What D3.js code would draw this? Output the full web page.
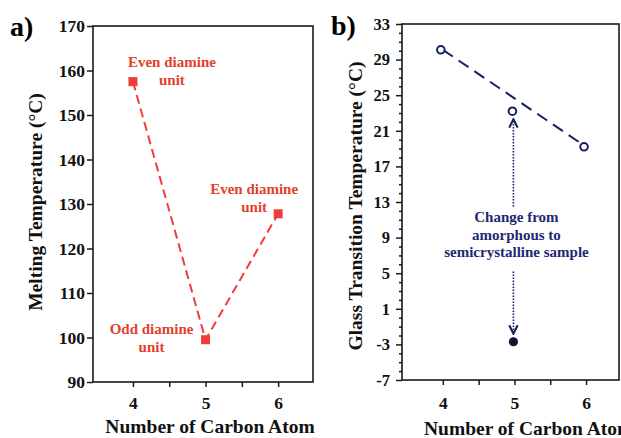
<!DOCTYPE html>
<html lang="en">
<head>
<meta charset="UTF-8">
<title>Melting and glass transition temperature</title>
<script src="https://unpkg.com/d3@7.8.5/dist/d3.min.js"></script>
<style>
  body { margin: 0; background: #fff; }
  svg { display: block; font-family: "Liberation Serif", "Times New Roman", serif; font-weight: bold; }
</style>
</head>
<body>
<svg width="621" height="438"></svg>
<script>
// panel a data
var carbonA = [4, 5, 6]
var meltTemp = [157.5, 99.5, 127.8]
var meltNotes = [['Even diamine', 'unit'], ['Odd diamine', 'unit'], ['Even diamine', 'unit']]
var meltTicks = [90, 100, 110, 120, 130, 140, 150, 160, 170]

// panel b data
var carbonB = [4, 5, 6]
var tgAmorphous = [30.1, 23.2, 19.2]
var carbonSemi = [5]
var tgSemi = [-2.7]
var trendX = [4, 6]
var trendY = [30.1, 19.2]
var tgTicks = [-7, -3, 1, 5, 9, 13, 17, 21, 25, 29, 33]
var tgNote = ['Change from', 'amorphous to', 'semicrystalline sample']

var carbonTicks = [4, 5, 6]
var carbonMinor = [4.5, 5.5]

var red = '#f03c3c', redText = '#e2402c', navy = '#17205c'

var svg = d3.select('svg')

// arrow head for the dotted arrows
svg.append('defs').append('marker')
  .attr('id', 'arr').attr('viewBox', '0 0 8 8')
  .attr('refX', 7).attr('refY', 4)
  .attr('markerWidth', 7).attr('markerHeight', 7)
  .attr('orient', 'auto')
  .append('path').attr('d', 'M1,1 L7,4 L1,7')
  .attr('fill', 'none').attr('stroke', navy).attr('stroke-width', 1.5)

function frame(x0, x1, y0, y1) {
  svg.append('rect')
    .attr('x', x0).attr('y', y0)
    .attr('width', x1 - x0).attr('height', y1 - y0)
    .attr('fill', 'none').attr('stroke', '#1a1a1a').attr('stroke-width', 1.6)
}

function styleAxis(g, size) {
  g.select('.domain').remove()
  g.selectAll('line').attr('stroke', '#1a1a1a').attr('stroke-width', 1.5)
  g.selectAll('text').attr('fill', '#111').attr('font-size', size)
    .attr('font-family', '"Liberation Serif", serif').attr('font-weight', 'bold')
}

// plain hyphen for negatives, as in the figure
var fmt = function (d) { return String(d) }

// ---------- panel a ----------
var xA = d3.scaleLinear().domain([3.45, 6.48]).range([93, 313])
var yA = d3.scaleLinear().domain([90, 170]).range([382, 26])

svg.append('g').attr('transform', 'translate(93,0)')
  .call(d3.axisLeft(yA).tickValues(meltTicks).tickSize(6).tickPadding(2).tickFormat(fmt))
  .call(styleAxis, 17.5)
svg.append('g').attr('transform', 'translate(0,382)')
  .call(d3.axisBottom(xA).tickValues(carbonTicks).tickSize(5).tickPadding(10).tickFormat(fmt))
  .call(styleAxis, 17.5)
svg.append('g').attr('transform', 'translate(0,382)')
  .call(d3.axisBottom(xA).tickValues(carbonMinor).tickSize(5).tickFormat(''))
  .call(styleAxis, 17)
frame(93, 313, 26, 382)

var lineA = d3.line().x(function (d, i) { return xA(carbonA[i]) }).y(function (d) { return yA(d) })
svg.append('path').datum(meltTemp)
  .attr('d', lineA).attr('fill', 'none')
  .attr('stroke', red).attr('stroke-width', 2).attr('stroke-dasharray', '9,5')

svg.selectAll('rect.sq').data(meltTemp).enter().append('rect')
  .attr('class', 'sq')
  .attr('x', function (d, i) { return xA(carbonA[i]) - 4.5 })
  .attr('y', function (d) { return yA(d) - 4.5 })
  .attr('width', 9).attr('height', 9).attr('fill', red)

// note offsets for each point (pixels)
var noteDx = [39, -54, -24], noteDy = [-15, -6, -20]
meltNotes.forEach(function (lines, i) {
  var t = svg.append('text')
    .attr('text-anchor', 'middle').attr('fill', redText).attr('font-size', 15)
  lines.forEach(function (s, j) {
    t.append('tspan')
      .attr('x', xA(carbonA[i]) + noteDx[i])
      .attr('y', yA(meltTemp[i]) + noteDy[i] + j * 18.5)
      .text(s)
  })
})

svg.append('text').attr('x', 10).attr('y', 36).attr('font-size', 28).text('a)')
svg.append('text').attr('transform', 'translate(42,202) rotate(-90)')
  .attr('text-anchor', 'middle').attr('font-size', 19.5).attr('fill', '#111')
  .text('Melting Temperature (°C)')
svg.append('text').attr('x', 210).attr('y', 433)
  .attr('text-anchor', 'middle').attr('font-size', 19.5).attr('fill', '#111')
  .text('Number of Carbon Atom')

// ---------- panel b ----------
var xB = d3.scaleLinear().domain([3.43, 6.46]).range([402, 619])
var yB = d3.scaleLinear().domain([-7, 33]).range([380, 24])
var tgMinor = d3.range(-7, 34).filter(function (v) { return tgTicks.indexOf(v) < 0 })

svg.append('g').attr('transform', 'translate(402,0)')
  .call(d3.axisLeft(yB).tickValues(tgTicks).tickSize(6).tickPadding(6).tickFormat(fmt))
  .call(styleAxis, 16.5)
svg.append('g').attr('transform', 'translate(402,0)')
  .call(d3.axisLeft(yB).tickValues(tgMinor).tickSize(3).tickFormat(''))
  .call(styleAxis, 16)
svg.append('g').attr('transform', 'translate(0,380)')
  .call(d3.axisBottom(xB).tickValues(carbonTicks).tickSize(5).tickPadding(12).tickFormat(fmt))
  .call(styleAxis, 17.5)
svg.append('g').attr('transform', 'translate(0,380)')
  .call(d3.axisBottom(xB).tickValues(carbonMinor).tickSize(5).tickFormat(''))
  .call(styleAxis, 17)
frame(402, 619, 24, 380)

var lineB = d3.line().x(function (d, i) { return xB(trendX[i]) }).y(function (d) { return yB(d) })
svg.append('path').datum(trendY)
  .attr('d', lineB).attr('fill', 'none')
  .attr('stroke', navy).attr('stroke-width', 2).attr('stroke-dasharray', '12,7')

svg.selectAll('circle.open').data(tgAmorphous).enter().append('circle')
  .attr('class', 'open')
  .attr('cx', function (d, i) { return xB(carbonB[i]) - 2 })
  .attr('cy', function (d) { return yB(d) })
  .attr('r', 3.8).attr('fill', '#fff').attr('stroke', navy).attr('stroke-width', 2)

svg.selectAll('circle.fill').data(tgSemi).enter().append('circle')
  .attr('class', 'fill')
  .attr('cx', function (d, i) { return xB(carbonSemi[i]) - 1 })
  .attr('cy', function (d) { return yB(d) })
  .attr('r', 4.6).attr('fill', '#101535')

// dotted arrows and note between the two x=5 points
var ax = xB(5) - 1
var yUp = yB(tgAmorphous[1]) + 8, yDown = yB(tgSemi[0]) - 8
var mid = (yB(tgAmorphous[1]) + yB(tgSemi[0])) / 2
svg.append('line').attr('x1', ax).attr('x2', ax).attr('y1', mid - 20).attr('y2', yUp)
  .attr('stroke', navy).attr('stroke-width', 1.6).attr('stroke-dasharray', '1.5,1.5')
  .attr('marker-end', 'url(#arr)')
svg.append('line').attr('x1', ax).attr('x2', ax).attr('y1', mid + 45).attr('y2', yDown)
  .attr('stroke', navy).attr('stroke-width', 1.6).attr('stroke-dasharray', '1.5,1.5')
  .attr('marker-end', 'url(#arr)')

var note = svg.append('text').attr('text-anchor', 'middle').attr('fill', '#1e2870').attr('font-size', 15)
tgNote.forEach(function (s, j) {
  note.append('tspan').attr('x', ax + 3).attr('y', mid - 4 + j * 17.5).text(s)
})

svg.append('text').attr('x', 331).attr('y', 35).attr('font-size', 28).text('b)')
svg.append('text').attr('transform', 'translate(362,206) rotate(-90)')
  .attr('text-anchor', 'middle').attr('font-size', 19.5).attr('fill', '#111')
  .text('Glass Transition Temperature (°C)')
// the reference crops the end of this title at the right edge
svg.append('text').attr('x', 424).attr('y', 435)
  .attr('font-size', 19.5).attr('fill', '#111')
  .text('Number of Carbon Atom')
</script>
</body>
</html>
